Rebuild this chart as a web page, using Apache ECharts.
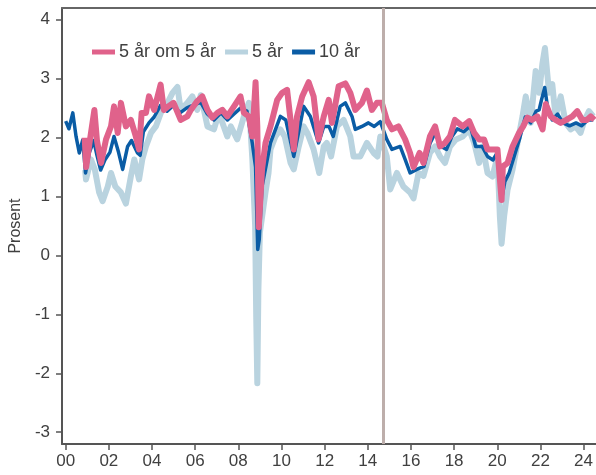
<!DOCTYPE html>
<html>
<head>
<meta charset="utf-8">
<script src="https://cdn.jsdelivr.net/npm/echarts@6/dist/echarts.min.js"></script>
<style>html,body{margin:0;padding:0;background:#fff;}#c{width:596px;height:475px;}</style>
</head>
<body>
<div id="c"></div>
<script>
// ---- data (decimal years, percent) ----
const seriesNames = ['5 år om 5 år', '5 år', '10 år'];
const xTickYears = [2000, 2002, 2004, 2006, 2008, 2010, 2012, 2014, 2016, 2018, 2020, 2022, 2024];
const yTickValues = [-3, -2, -1, 0, 1, 2, 3, 4];
const markerYear = 2014.7;

const fwdYears = [2000.88,2000.95,2001.10,2001.33,2001.45,2001.64,2001.87,2002.10,2002.24,2002.41,2002.56,2002.79,2003.02,2003.25,2003.40,2003.52,2003.72,2003.86,2004.10,2004.40,2004.55,2004.75,2005.00,2005.33,2005.64,2005.80,2006.10,2006.33,2006.57,2006.80,2007.03,2007.26,2007.49,2007.80,2008.10,2008.26,2008.49,2008.65,2008.80,2008.88,2008.95,2009.10,2009.26,2009.49,2009.80,2010.03,2010.26,2010.42,2010.57,2010.72,2010.96,2011.26,2011.49,2011.72,2011.96,2012.19,2012.34,2012.65,2012.96,2013.19,2013.42,2013.73,2013.96,2014.19,2014.42,2014.65,2014.88,2015.12,2015.42,2015.73,2015.96,2016.12,2016.40,2016.58,2016.88,2017.12,2017.35,2017.58,2017.81,2018.04,2018.40,2018.70,2018.93,2019.16,2019.39,2019.55,2019.80,2020.01,2020.20,2020.26,2020.48,2020.71,2021.01,2021.20,2021.40,2021.60,2021.86,2022.10,2022.25,2022.48,2022.70,2022.94,2023.20,2023.48,2023.71,2023.94,2024.15,2024.33,2024.50];
const fwdValues = [2.0,1.5,1.9,2.47,1.95,1.57,1.97,2.19,2.53,2.08,2.59,2.19,2.3,2.02,1.8,2.42,2.42,2.7,2.47,2.9,2.47,2.53,2.59,2.30,2.36,2.47,2.62,2.70,2.47,2.34,2.42,2.47,2.36,2.53,2.70,2.42,2.36,2.02,2.94,2.19,0.48,1.46,1.91,2.19,2.64,2.76,2.81,2.30,1.80,2.36,2.70,2.94,2.70,1.97,2.36,2.64,2.25,2.87,2.92,2.76,2.47,2.59,2.80,2.47,2.59,2.59,2.30,2.14,2.19,1.97,1.74,1.50,1.74,1.57,2.02,2.19,1.85,1.91,2.02,2.30,2.19,2.28,2.08,1.97,1.97,1.80,1.80,1.80,0.94,1.51,1.57,1.85,2.08,2.19,2.34,2.30,2.36,2.14,2.57,2.36,2.30,2.25,2.30,2.36,2.45,2.30,2.30,2.36,2.30];

const y5Years = [2000.90,2000.94,2001.17,2001.35,2001.55,2001.71,2001.95,2002.10,2002.30,2002.56,2002.79,2003.02,2003.18,2003.40,2003.55,2003.72,2003.95,2004.18,2004.41,2004.72,2004.95,2005.18,2005.33,2005.64,2005.87,2006.10,2006.26,2006.57,2006.87,2007.10,2007.49,2007.65,2007.95,2008.26,2008.49,2008.65,2008.78,2008.83,2008.88,2008.93,2009.00,2009.26,2009.40,2009.49,2009.72,2009.95,2010.15,2010.42,2010.57,2010.80,2011.03,2011.20,2011.49,2011.75,2011.96,2012.10,2012.30,2012.57,2012.88,2013.19,2013.34,2013.65,2013.96,2014.27,2014.45,2014.58,2014.88,2015.04,2015.35,2015.65,2015.96,2016.12,2016.35,2016.58,2016.88,2017.12,2017.35,2017.58,2017.81,2018.09,2018.40,2018.70,2018.93,2019.16,2019.32,2019.55,2019.78,2020.01,2020.12,2020.20,2020.32,2020.48,2020.71,2020.94,2021.17,2021.32,2021.55,2021.78,2021.94,2022.09,2022.21,2022.40,2022.55,2022.70,2022.94,2023.17,2023.40,2023.63,2023.86,2024.05,2024.25,2024.45];
const y5Values = [1.45,1.29,1.63,1.46,1.07,0.92,1.17,1.40,1.17,1.07,0.88,1.34,1.63,1.29,1.63,1.85,2.08,2.19,2.42,2.59,2.76,2.86,2.47,2.59,2.70,2.47,2.72,2.19,2.14,2.42,2.02,2.19,1.97,2.36,2.59,1.63,0.5,-1.05,-2.17,-0.6,0.39,1.07,1.40,1.80,2.02,2.14,2.02,1.57,1.46,1.85,2.19,2.08,1.80,1.40,1.85,1.91,1.68,2.19,2.30,2.02,1.68,1.68,1.91,1.74,1.68,2.02,1.68,1.12,1.40,1.17,1.07,0.97,1.40,1.35,1.74,1.85,1.68,1.57,1.85,1.97,2.02,2.14,1.91,1.57,1.85,1.40,1.34,1.68,0.67,0.20,0.67,1.12,1.46,1.91,2.36,2.70,2.25,3.13,2.76,3.25,3.52,2.76,2.91,2.36,2.70,2.25,2.14,2.19,2.08,2.30,2.45,2.36];

const y10Years = [2000.00,2000.15,2000.33,2000.48,2000.63,2000.79,2000.92,2001.10,2001.30,2001.45,2001.62,2001.83,2002.05,2002.24,2002.45,2002.64,2002.87,2003.05,2003.33,2003.45,2003.60,2003.86,2004.10,2004.40,2004.70,2005.00,2005.30,2005.60,2005.90,2006.26,2006.57,2006.87,2007.20,2007.50,2007.80,2008.10,2008.40,2008.65,2008.80,2008.90,2008.97,2009.10,2009.30,2009.49,2009.95,2010.20,2010.57,2010.80,2011.03,2011.34,2011.72,2011.96,2012.20,2012.40,2012.72,2012.96,2013.27,2013.42,2013.73,2014.03,2014.30,2014.58,2014.88,2015.12,2015.50,2015.73,2015.96,2016.27,2016.60,2016.88,2017.12,2017.40,2017.65,2017.90,2018.15,2018.45,2018.75,2019.00,2019.30,2019.55,2019.80,2020.01,2020.20,2020.35,2020.55,2020.80,2021.05,2021.30,2021.55,2021.80,2021.94,2022.05,2022.20,2022.35,2022.55,2022.80,2023.05,2023.35,2023.65,2023.90,2024.20,2024.45];
const y10Values = [2.28,2.15,2.42,2.02,1.74,1.96,1.40,1.75,1.95,1.70,1.45,1.63,1.75,2.02,1.75,1.46,1.85,1.95,1.74,1.70,2.10,2.25,2.35,2.55,2.45,2.55,2.42,2.50,2.55,2.60,2.40,2.30,2.42,2.30,2.40,2.50,2.45,1.90,1.50,0.10,0.27,1.17,1.55,1.91,2.36,2.30,1.68,2.10,2.53,2.36,1.91,2.19,2.19,2.02,2.53,2.59,2.36,2.14,2.19,2.25,2.19,2.27,1.97,1.80,1.85,1.63,1.40,1.46,1.51,1.90,2.08,1.85,1.80,2.02,2.15,2.10,2.20,1.85,1.85,1.68,1.62,1.75,0.95,1.25,1.40,1.70,2.00,2.35,2.25,2.45,2.47,2.64,2.85,2.47,2.30,2.40,2.25,2.20,2.25,2.20,2.30,2.30];

// ---- chart ----
const FONT = 'Liberation Sans, Arial, sans-serif';
const pair = (xs, ys) => xs.map((x, i) => [x, ys[i]]);
const chart = echarts.init(document.getElementById('c'), null, { renderer: 'canvas' });
const xMin = 1999.83, xMax = 2024.56;

chart.setOption({
  animation: false,
  backgroundColor: '#ffffff',
  textStyle: { fontFamily: FONT },
  grid: { left: 61, right: 0, top: 8, bottom: 31 },
  legend: {
    data: seriesNames,
    left: 87, top: 38,
    icon: 'rect', itemWidth: 23, itemHeight: 5, itemGap: 9,
    textStyle: { fontSize: 18, color: '#404040', fontFamily: FONT, padding: [0, 0, 0, -1] }
  },
  xAxis: [{
    type: 'value', min: xMin, max: xMax,
    splitLine: { show: false },
    axisLine: { show: true, onZero: false, lineStyle: { color: '#555', width: 2 } },
    axisTick: { show: true, length: 6, lineStyle: { color: '#555', width: 1.5 }, customValues: xTickYears },
    axisLabel: { color: '#404040', fontSize: 17, margin: 9, fontFamily: FONT, customValues: xTickYears,
      formatter: v => String(Math.round(v) % 100).padStart(2, '0') }
  }, {
    type: 'value', position: 'top', min: xMin, max: xMax,
    splitLine: { show: false },
    axisLine: { show: true, onZero: false, lineStyle: { color: '#666', width: 2 } },
    axisTick: { show: false }, axisLabel: { show: false }
  }],
  yAxis: {
    type: 'value', min: -3.2, max: 4.2,
    name: 'Prosent', nameLocation: 'middle', nameGap: 35, nameRotate: 90,
    nameTextStyle: { fontSize: 16, color: '#404040', fontFamily: FONT },
    splitLine: { show: false },
    axisLine: { show: true, lineStyle: { color: '#555', width: 2 } },
    axisTick: { show: true, length: 6, lineStyle: { color: '#555', width: 1.5 }, customValues: yTickValues },
    axisLabel: { color: '#404040', fontSize: 17, margin: 12, fontFamily: FONT, customValues: yTickValues }
  },
  series: [
    {
      name: seriesNames[1], type: 'line', z: 2, showSymbol: false, symbol: 'none',
      data: pair(y5Years, y5Values),
      color: '#b9d3df', lineStyle: { color: '#b9d3df', width: 6, join: 'round' }
    },
    {
      name: seriesNames[2], type: 'line', z: 3, showSymbol: false, symbol: 'none',
      data: pair(y10Years, y10Values),
      color: '#0a5ca5', lineStyle: { color: '#0a5ca5', width: 3.5, join: 'round' }
    },
    {
      name: seriesNames[0], type: 'line', z: 4, showSymbol: false, symbol: 'none',
      data: pair(fwdYears, fwdValues),
      color: '#e0628b', lineStyle: { color: '#e0628b', width: 6, join: 'round' },
      markLine: {
        silent: true, symbol: 'none', label: { show: false },
        lineStyle: { color: '#bdaeab', width: 3, type: 'solid' },
        data: [{ xAxis: markerYear }]
      }
    }
  ]
});
</script>
</body>
</html>
